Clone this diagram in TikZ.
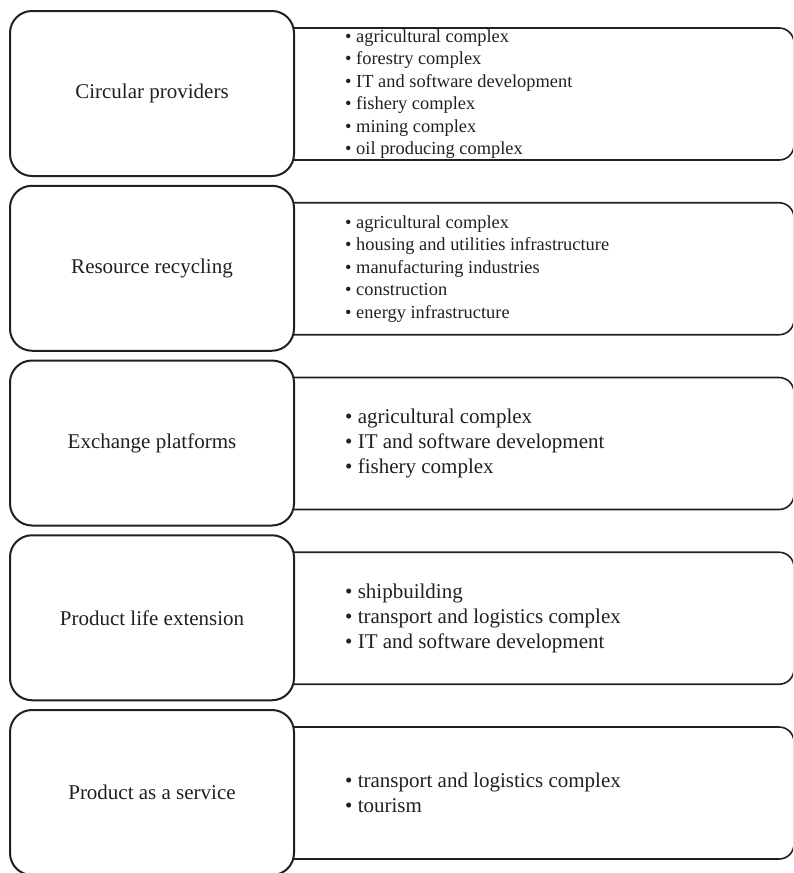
\documentclass[tikz,border=0pt]{standalone}
\usepackage{fontspec}
\setmainfont{Liberation Serif}
\definecolor{ink}{RGB}{35,31,32}
\begin{document}
\begin{tikzpicture}[x=1pt,y=-1pt,
  stage/.style={draw=ink, line width=2pt, fill=white, rounded corners=22pt,
    minimum width=284pt, minimum height=165pt, inner sep=0pt, text=ink,
    font=\fontsize{21}{25}\selectfont},
  panel/.style={draw=ink, line width=1.6pt, rounded corners=15pt,
    minimum width=530pt, minimum height=132pt, inner sep=0pt},
  smalllist/.style={anchor=west, align=left, inner sep=0pt, text=ink,
    font=\fontsize{18.4}{22.5}\selectfont},
  biglist/.style={anchor=west, align=left, inner sep=0pt, text=ink,
    font=\fontsize{21}{25.3}\selectfont}]
\clip (0,0) rectangle (793,873);

% right-hand panels (their left ends sit under the stage boxes)
\node[panel] (p1) at (529, 94) {};
\node[panel] (p2) at (529, 268.75) {};
\node[panel] (p3) at (529, 443.5) {};
\node[panel] (p4) at (529, 618.25) {};
\node[panel] (p5) at (529, 793) {};

% stage boxes
\node[stage] (s1) at (152, 93.5) {Circular providers};
\node[stage] (s2) at (152, 268.25) {Resource recycling};
\node[stage] (s3) at (152, 443) {Exchange platforms};
\node[stage] (s4) at (152, 617.75) {Product life extension};
\node[stage] (s5) at (152, 792.5) {Product as a service};

% sector lists
\node[smalllist] (l1) at (345, 94) {• agricultural complex\\• forestry complex\\• IT and software development\\• fishery complex\\• mining complex\\• oil producing complex};
\node[smalllist] (l2) at (345, 268.75) {• agricultural complex\\• housing and utilities infrastructure\\• manufacturing industries\\• construction\\• energy infrastructure};
\node[biglist] (l3) at (345, 443.5) {• agricultural complex\\• IT and software development\\• fishery complex};
\node[biglist] (l4) at (345, 618.25) {• shipbuilding\\• transport and logistics complex\\• IT and software development};
\node[biglist] (l5) at (345, 793) {• transport and logistics complex\\• tourism};
\end{tikzpicture}
\end{document}
